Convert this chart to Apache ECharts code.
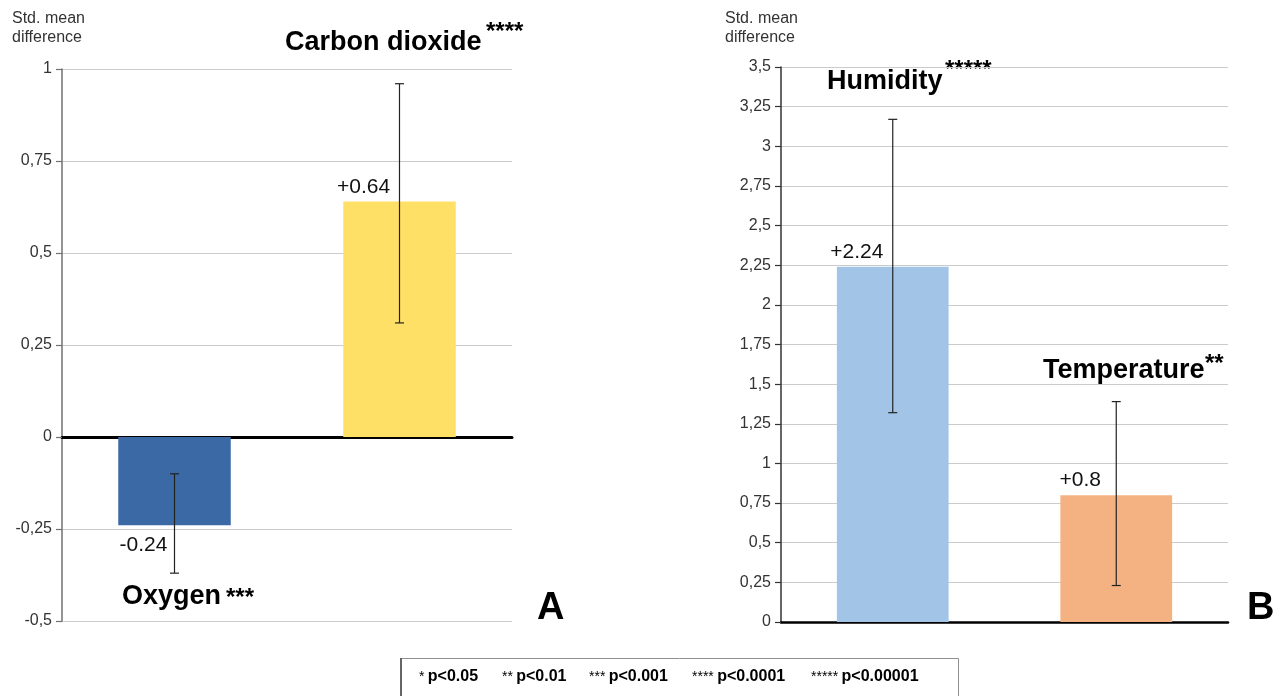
<!DOCTYPE html>
<html>
<head>
<meta charset="utf-8">
<script src="https://cdn.jsdelivr.net/npm/echarts@6/dist/echarts.min.js"></script>
<style>html,body{margin:0;padding:0;background:#fff;}#c{width:1278px;height:696px;}</style>
</head>
<body>
<div id="c"></div>
<script>
// ---- data ----
const groupsA = ['Oxygen', 'Carbon dioxide'];
const valuesA = [-0.24, 0.64];
const errLowA = [-0.37, 0.31];
const errHighA = [-0.10, 0.96];
const signifA = ['***', '****'];

const groupsB = ['Humidity', 'Temperature'];
const valuesB = [2.24, 0.80];
const errLowB = [1.32, 0.23];
const errHighB = [3.17, 1.39];
const signifB = ['*****', '**'];

const axisA = { min: -0.5, max: 1, step: 0.25 };
const axisB = { min: 0, max: 3.5, step: 0.25 };
const yAxisTitle = ['Std. mean', 'difference'];
const panelLetters = ['A', 'B'];
const legendStars = ['*', '**', '***', '****', '*****'];
const legendP = ['p<0.05', 'p<0.01', 'p<0.001', 'p<0.0001', 'p<0.00001'];

const colorsA = ['#3a69a6', '#ffe066'];
const colorsB = ['#a2c5e7', '#f4b283'];

// ---- chart ----
const FONT = "'Liberation Sans', Arial, sans-serif";
const chart = echarts.init(document.getElementById('c'), null, { renderer: 'canvas' });

function fmtTick(v) { return String(+v.toFixed(2)).replace('.', ','); }
function fmtVal(v) { return (v > 0 ? '+' : '') + v; }

function barData(vals, colors) {
  return vals.map((v, i) => ({
    value: v,
    itemStyle: { color: colors[i] },
    label: v < 0
      ? { position: 'bottom', distance: 9, offset: [-31, 0] }
      : { position: 'top', distance: 4, offset: [-36, 0] }
  }));
}

function errData(lo, hi) { return lo.map((l, i) => [i, l, hi[i]]); }

function errRender(params, api) {
  const i = api.value(0);
  const p1 = api.coord([i, api.value(1)]);
  const p2 = api.coord([i, api.value(2)]);
  const hw = 4.5;
  const st = { stroke: '#222', lineWidth: 1.2 };
  return {
    type: 'group',
    children: [
      { type: 'line', shape: { x1: p1[0], y1: p1[1], x2: p2[0], y2: p2[1] }, style: st },
      { type: 'line', shape: { x1: p1[0] - hw, y1: p1[1], x2: p1[0] + hw, y2: p1[1] }, style: st },
      { type: 'line', shape: { x1: p2[0] - hw, y1: p2[1], x2: p2[0] + hw, y2: p2[1] }, style: st }
    ]
  };
}

function yAxisDef(gi, ax, lineColor) {
  return {
    type: 'value', gridIndex: gi, min: ax.min, max: ax.max, interval: ax.step,
    axisLine: { show: true, lineStyle: { color: lineColor, width: 1.5 } },
    axisTick: { show: true, length: 6, lineStyle: { color: lineColor, width: 1.2 } },
    axisLabel: { color: '#333', fontSize: 16, fontFamily: FONT, margin: 10, formatter: fmtTick },
    splitLine: { show: true, lineStyle: { color: '#cbcbcb', width: 1 } }
  };
}

function xAxisDef(gi, cats, w) {
  return {
    type: 'category', gridIndex: gi, data: cats,
    axisLine: { show: true, onZero: true, lineStyle: { color: '#000', width: w } },
    axisTick: { show: false }, axisLabel: { show: false }, splitLine: { show: false }
  };
}

const txt = (x, y, text, size, weight, extra) => ({
  type: 'text', x: x, y: y, silent: true,
  style: Object.assign({ text: text, fontSize: size, fontWeight: weight, fontFamily: FONT, fill: '#000',
    textVerticalAlign: 'middle', verticalAlign: 'middle' }, extra || {})
});

const graphics = [];
// y axis titles
[12, 725].forEach(x => {
  graphics.push(txt(x, 19, yAxisTitle[0], 16, 'normal', { fill: '#333' }));
  graphics.push(txt(x, 37.5, yAxisTitle[1], 16, 'normal', { fill: '#333' }));
});
// category titles with significance stars
graphics.push(txt(285, 43, groupsA[1], 27, 'bold'));
graphics.push(txt(486, 32, signifA[1], 24, 'bold'));
graphics.push(txt(122, 597, groupsA[0], 27, 'bold'));
graphics.push(txt(226, 598, signifA[0], 24, 'bold'));
graphics.push(txt(827, 82, groupsB[0], 27, 'bold'));
graphics.push(txt(945, 70, signifB[0], 24, 'bold'));
graphics.push(txt(1043, 371, groupsB[1], 27, 'bold'));
graphics.push(txt(1205, 364, signifB[1], 24, 'bold'));
// panel letters
graphics.push(txt(537, 609, panelLetters[0], 38, 'bold'));
graphics.push(txt(1247, 609, panelLetters[1], 38, 'bold'));
// legend box
graphics.push({ type: 'rect', shape: { x: 400.5, y: 658.5, width: 558, height: 40 }, silent: true,
  style: { fill: '#fff', stroke: '#909090', lineWidth: 1 } });
graphics.push({ type: 'line', shape: { x1: 401, y1: 658, x2: 401, y2: 696 }, silent: true,
  style: { stroke: '#666', lineWidth: 2 } });
const legX = [419, 502, 589, 692, 811];
legendStars.forEach((s, i) => {
  graphics.push({ type: 'text', x: legX[i], y: 677, silent: true,
    style: { text: '{s|' + s + '} {p|' + legendP[i] + '}', verticalAlign: 'middle', textVerticalAlign: 'middle',
      rich: { s: { fontSize: 14, fontWeight: 'normal', fontFamily: FONT, fill: '#000', verticalAlign: 'middle' },
              p: { fontSize: 16, fontWeight: 'bold', fontFamily: FONT, fill: '#000', verticalAlign: 'middle' } } } });
});

const labelStyle = { show: true, fontSize: 21, fontFamily: FONT, color: '#111', formatter: p => fmtVal(p.value) };

chart.setOption({
  animation: false,
  backgroundColor: '#fff',
  grid: [
    { left: 62, top: 69, width: 450, height: 552 },
    { left: 781, top: 67, width: 447, height: 555 }
  ],
  xAxis: [xAxisDef(0, groupsA, 3), xAxisDef(1, groupsB, 2.5)],
  yAxis: [yAxisDef(0, axisA, '#707070'), yAxisDef(1, axisB, '#333')],
  series: [
    { type: 'bar', xAxisIndex: 0, yAxisIndex: 0, barWidth: '50%', data: barData(valuesA, colorsA),
      label: labelStyle, silent: true, z: 2 },
    { type: 'custom', xAxisIndex: 0, yAxisIndex: 0, data: errData(errLowA, errHighA), renderItem: errRender, silent: true, z: 5 },
    { type: 'bar', xAxisIndex: 1, yAxisIndex: 1, barWidth: '50%', data: barData(valuesB, colorsB),
      label: labelStyle, silent: true, z: 2 },
    { type: 'custom', xAxisIndex: 1, yAxisIndex: 1, data: errData(errLowB, errHighB), renderItem: errRender, silent: true, z: 5 }
  ],
  graphic: graphics
});
</script>
</body>
</html>
